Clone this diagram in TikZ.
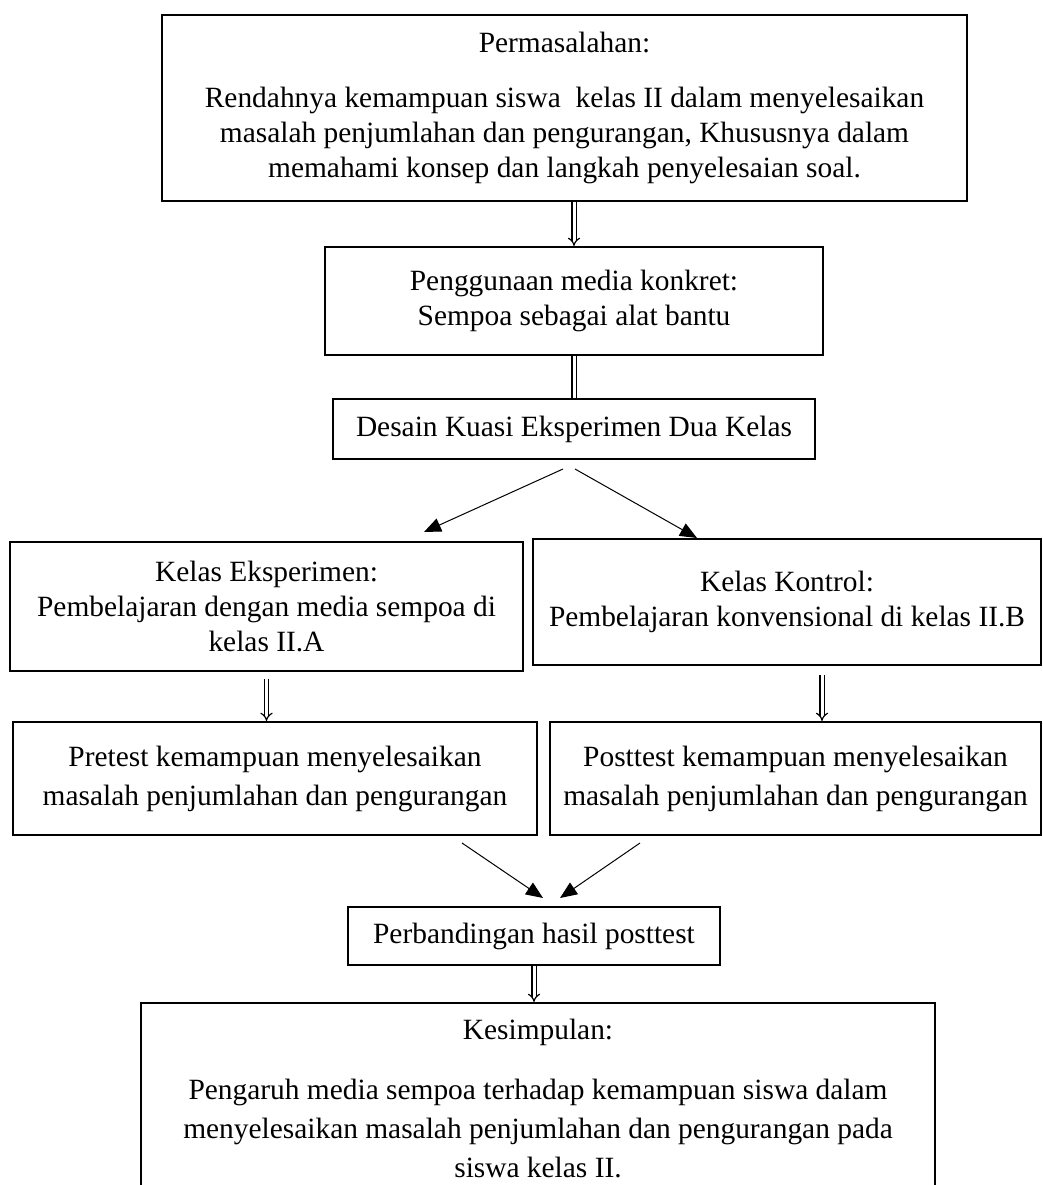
\documentclass[tikz,border=0pt]{standalone}
\usepackage{fontspec}
\setmainfont{Liberation Serif}
\usetikzlibrary{arrows.meta}

\tikzstyle{box}=[draw,line width=2pt,align=center,inner sep=0pt,font=\fontsize{29.4}{35}\selectfont]
\tikzstyle{loose box}=[box,font=\fontsize{29.4}{39}\selectfont]
\tikzstyle{double edge}=[draw,double,double distance=3pt,line width=1.2pt,-{Implies}]
\tikzstyle{plain double}=[draw,double,double distance=3pt,line width=1.2pt]
\tikzstyle{link edge}=[draw,line width=1pt,-{Triangle[length=17pt,width=14pt]}]

\begin{document}
\begin{tikzpicture}[x=1pt,y=-1pt]
	\useasboundingbox (0,0) rectangle (1043,1185);
			\node[box,minimum width=805pt,minimum height=186pt] (masalah) at (564.5,108) {Permasalahan:\\[20pt]Rendahnya kemampuan siswa \ kelas II dalam menyelesaikan\\masalah penjumlahan dan pengurangan, Khususnya dalam\\memahami konsep dan langkah penyelesaian soal.};
			\node[box,minimum width=498pt,minimum height=108pt] (media) at (574,301) {Penggunaan media konkret:\\Sempoa sebagai alat bantu};
			\node[box,minimum width=482pt,minimum height=60pt] (desain) at (574,429) {Desain Kuasi Eksperimen Dua Kelas};
			\node[box,minimum width=513pt,minimum height=129pt] (eksperimen) at (266.5,606.5) {Kelas Eksperimen:\\Pembelajaran dengan media sempoa di\\kelas II.A};
			\node[box,minimum width=508pt,minimum height=126pt] (kontrol) at (787,602) {Kelas Kontrol:\\Pembelajaran konvensional di kelas II.B};
			\node[loose box,minimum width=524pt,minimum height=113pt] (pretest) at (275,778.5) {Pretest kemampuan menyelesaikan\\masalah penjumlahan dan pengurangan};
			\node[loose box,minimum width=491pt,minimum height=113pt] (posttest) at (795.5,778.5) {Posttest kemampuan menyelesaikan\\masalah penjumlahan dan pengurangan};
			\node[box,minimum width=372pt,minimum height=58pt] (banding) at (534,936) {Perbandingan hasil posttest};
			\node[loose box,minimum width=794pt,minimum height=191pt] (simpul) at (538,1098.5) {Kesimpulan:\\[21pt]Pengaruh media sempoa terhadap kemampuan siswa dalam\\menyelesaikan masalah penjumlahan dan pengurangan pada\\siswa kelas II.};
			% Double arrows down the middle
			\path[double edge] (masalah.south -| media.north) to (media.north);
			\path[plain double] (media.south) to (desain.north);
			\coordinate (kk) at ([xshift=35pt]kontrol.south);
			\path[double edge] ([yshift=-7pt]eksperimen.south) to (eksperimen.south |- pretest.north);
			\path[double edge] ([yshift=-9pt]kk) to (kk |- posttest.north);
			\path[double edge] (banding.south) to (banding.south |- simpul.north);
			% Split and join arrows
			\path[link edge] ([xshift=-11pt,yshift=-9pt]desain.south) to ([xshift=157.5pt,yshift=9pt]eksperimen.north);
			\path[link edge] ([xshift=1pt,yshift=-9pt]desain.south) to ([xshift=-90pt]kontrol.north);
			\path[link edge] ([xshift=187pt,yshift=-7pt]pretest.south) to ([xshift=9pt,yshift=8pt]banding.north);
			\path[link edge] ([xshift=-155.5pt,yshift=-7pt]posttest.south) to ([xshift=26pt,yshift=8pt]banding.north);
		\end{tikzpicture}
\end{document}
